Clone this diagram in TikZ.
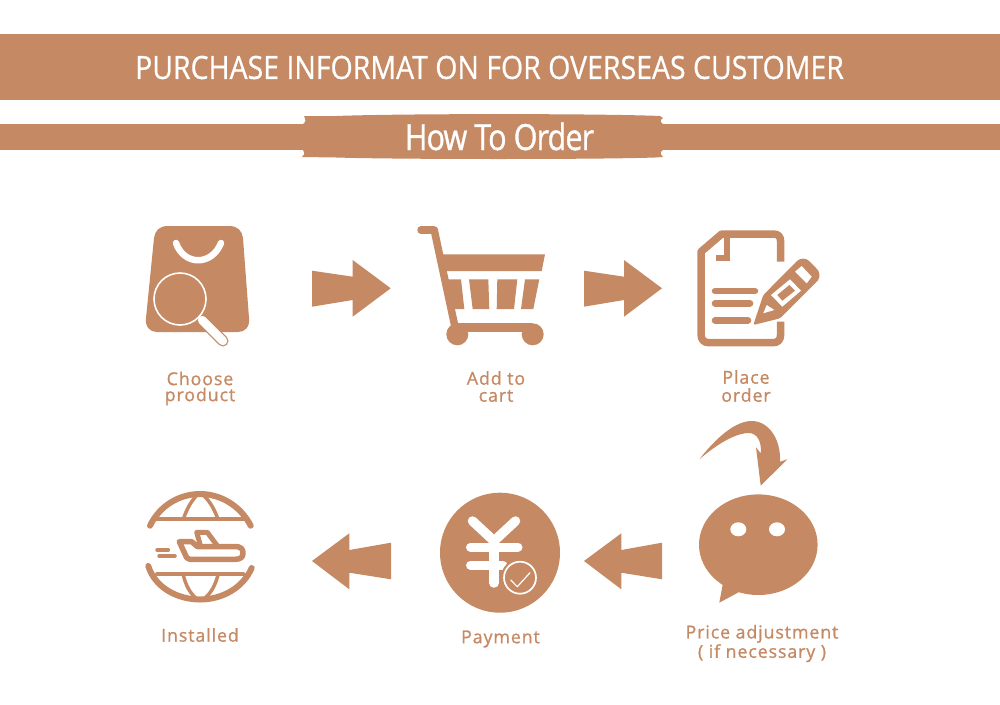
\documentclass[tikz,border=0pt]{standalone}
\usepackage{fontspec}
\setmainfont{Open Sans}
\newfontfamily\titlefont[FakeBold=0.7]{Open Sans}
\newfontfamily\howfont[FakeBold=1.1,LetterSpace=-3]{Open Sans}
\newfontfamily\lblfont[LetterSpace=5,FakeBold=1.0]{Open Sans}
\definecolor{tan}{HTML}{C58963}
\tikzset{
  x=1pt,y=-1pt,
  bigarrow/.style={fill=tan,draw=none},
  barline/.style={draw=tan,line cap=round,line join=round},
  wline/.style={draw=white,line cap=round,line join=round},
  lbl/.style={text=tan,align=center,font=\lblfont\fontsize{17.8}{17.5}\selectfont,inner sep=0pt},
  head/.style={text=white,inner sep=0pt},
}
\begin{document}
\begin{tikzpicture}
\useasboundingbox (0,0) rectangle (1000,704);
% banners
\fill[tan] (0,34) rectangle (1000,100);
\node[head] (title) at (489.5,67.5) {\scalebox{0.89}[1]{\titlefont\fontsize{32}{32}\selectfont PURCHASE INFORMAT ON FOR OVERSEAS CUSTOMER}};
\fill[tan] (0,124) rectangle (1000,150);
\fill[tan] (304,116) -- (336,116) .. controls (400,113.5) and (600,113.5) .. (660,116) -- (663,118)
  .. controls (660,120) and (660,122) .. (663,124) -- (663,150) .. controls (660,152) and (660,154) .. (663,157)
  -- (655,157.5) .. controls (600,159.5) and (400,159.5) .. (336,157.5) -- (302,157)
  .. controls (305,154) and (305,152) .. (303,150) -- (303,124) .. controls (306,122) and (306,120) .. (304,116) -- cycle;
\node[head] (howto) at (499.5,136.5) {\scalebox{0.85}[1]{\howfont\fontsize{36}{36}\selectfont How To Order}};
% bag
\fill[tan] (168,226) -- (229,226) .. controls (238,226) and (242,231) .. (243,238)
  -- (249,318) .. controls (250,327) and (245,332) .. (238,332) -- (157,332)
  .. controls (150,332) and (145,327) .. (146,318) -- (154,238) .. controls (155,231) and (159,226) .. (168,226) -- cycle;
\draw[wline,line width=6.5pt] (176,243) .. controls (184,266) and (212,266) .. (221,243);
\draw[barline,line width=11pt] (202,320) -- (223,341);
\draw[wline,line width=8.5pt] (202,320) -- (223,341);
\fill[tan] (180,299) circle (26.5);
\draw[draw=white,line width=1.6pt] (180,299) circle (26);
% arrows
\fill[bigarrow] (312,270.7) -- (352.7,276.7) -- (352.7,260) -- (390.7,288.3) -- (352.7,316.7) -- (352.7,300) -- (312,306.7) -- cycle;
\fill[bigarrow] (584,270.7) -- (624,276.7) -- (624,260) -- (662,288.3) -- (624,316.7) -- (624,300) -- (584,306.7) -- cycle;
\fill[bigarrow] (584,561) -- (621.3,533.3) -- (621.3,550) -- (662,542.7) -- (662,579.3) -- (621.3,572.7) -- (621.3,589.3) -- cycle;
\fill[bigarrow] (312,561) -- (349.3,533.3) -- (349.3,550) -- (391,542.7) -- (391,579.3) -- (349.3,572.7) -- (349.3,589.3) -- cycle;
% cart
\draw[barline,line width=7.5pt] (421,230) -- (434,230);
\draw[draw=tan,line width=7.5pt,line join=round] (434,229) -- (455,327);
\fill[tan] (441.7,254.3) -- (545,254.3) -- (541.7,271) -- (446,271) -- cycle;
\fill[tan] (447.3,279.3) -- (461,279.3) -- (464.3,309) -- (453.3,309) -- cycle;
\fill[tan] (469,279.3) -- (488.3,279.3) -- (489.3,309) -- (472.7,309) -- cycle;
\fill[tan] (497.3,279.3) -- (517.3,279.3) -- (514,309) -- (496.7,309) -- cycle;
\fill[tan] (525,279.3) -- (539.3,279.3) -- (533.3,309) -- (521,309) -- cycle;
\draw[barline,line width=8.5pt] (455,327.3) -- (531,327.3);
\fill[tan] (457.3,334.3) circle (11);
\fill[tan] (532.7,334.3) circle (11);
% document
\draw[draw=tan,line width=7.5pt,line join=round] (780.7,261.7) -- (780.7,242) .. controls (780.7,236) and (778,234) .. (773,234)
  -- (721.7,234) -- (701,251.7) -- (701,334) .. controls (701,340) and (704,342.7) .. (709,342.7)
  -- (773,342.7) .. controls (778,342.7) and (780.7,340) .. (780.7,334) -- (780.7,321.7);
\draw[draw=tan,line width=6pt] (727.3,238) -- (727.3,258.3) -- (716,258.3);
\draw[barline,line width=6.5pt] (715,291) -- (755,291);
\draw[barline,line width=6.5pt] (715,303.3) -- (750,303.3);
\draw[barline,line width=6.5pt] (715,320.3) -- (748,320.3);
% pencil
\fill[tan,rounded corners=1.5pt] (753.3,325) -- (763.3,295) -- (797,261) .. controls (801,258) and (806,258) .. (810,262)
  -- (817,269) .. controls (820,273) and (820,278) .. (816.7,281.7) -- (780,318.3) -- cycle;
\fill[white] (795,271.7) -- (801.7,266) -- (811.7,276.7) -- (806.7,283.3) -- cycle;
\fill[white] (771,295) -- (790,279.3) -- (801,290.7) -- (782.3,306.7) -- cycle;
\fill[tan] (777.3,295) -- (789.3,285) -- (795,290.7) -- (782.3,300.7) -- cycle;
\fill[white] (763.3,313.3) -- (766.7,305) -- (774.3,310) -- cycle;
% chat
\fill[tan] (758.3,544.7) ellipse [x radius=59.3,y radius=50.3];
\fill[tan] (723,583) -- (719.3,602.7) -- (740,591.5) -- cycle;
\fill[white] (738.3,529.3) ellipse [x radius=8,y radius=7];
\fill[white] (777,529.3) ellipse [x radius=8,y radius=7];
% curved arrow
\fill[tan] (699.3,459.3) .. controls (716,438) and (735,421) .. (751.7,421)
  .. controls (768,421) and (781,438) .. (780,461.7) -- (787.3,459.3) -- (760.7,485.7) -- (756,447.3) -- (760.7,453.3)
  .. controls (762,442) and (757,433) .. (749,433) .. controls (735,433) and (716,445) .. (699.3,459.3) -- cycle;
% yen
\fill[tan] (500,552.7) circle (60);
\draw[wline,line width=9.5pt] (472.5,521) -- (494,541) -- (515.5,521);
\draw[wline,line width=9pt] (470.5,547) -- (518,547);
\draw[wline,line width=9pt] (470.5,565) -- (503,565);
\draw[wline,line width=9.5pt] (494,541) -- (494,583);
\fill[tan] (520,577.7) circle (19);
\draw[draw=white,line width=1.7pt] (520,577.7) circle (16);
\draw[wline,line width=1.2pt] (510.7,580) -- (517.3,586.7) -- (530,572.7);
% globe
\draw[barline,line width=6pt] (150,525.7) .. controls (160,505) and (180,494) .. (200,494) .. controls (220,494) and (240,505) .. (250.7,525.7);
\draw[barline,line width=6pt] (148.3,566) .. controls (155,588) and (178,599.5) .. (200,599.5) .. controls (222,599.5) and (243,588) .. (251.7,568);
\draw[barline,line width=4pt] (157,519.3) -- (243.3,519.3);
\draw[barline,line width=4pt] (157,574) -- (243.3,574);
\draw[barline,line width=3.5pt] (183.3,519.3) .. controls (187,508) and (192,500) .. (198,494);
\draw[barline,line width=3.5pt] (218,519.3) .. controls (214,508) and (209,500) .. (202,494);
\draw[barline,line width=3.5pt] (183.3,575) .. controls (186,586) and (190,593) .. (196.7,599);
\draw[barline,line width=3.5pt] (218,575) .. controls (215,586) and (211,593) .. (204,599);
% plane
\draw[barline,line width=5.5pt] (179.3,541.7) -- (191.7,541.7) -- (197.3,546.5) -- (235,546.5) .. controls (241,546.5) and (243,549) .. (243,553) .. controls (243,557) and (241,559.3) .. (235,559.3)
  -- (190,559.3) .. controls (187,559.3) and (186,557) .. (185,554) -- cycle;
\draw[barline,line width=5pt] (200,544) -- (196.7,532.3) -- (207.3,532.3) -- (216.7,545);
\draw[barline,line width=3.5pt] (157,550) -- (168.3,550);
\draw[barline,line width=3.5pt] (159,556) -- (175,556);
% labels
\node[lbl] (choose) at (200,388.5) {Choose\\[-1.5pt]product};
\node[lbl] (cart) at (496,386.5) {Add to\\[-0.5pt]cart};
\node[lbl] (place) at (746,386) {Place\\[0.5pt]order};
\node[lbl] (price) at (762,643.5) {Price adjustment\\[0.5pt]( if necessary )};
\node[lbl] (pay) at (500.5,639) {Payment};
\node[lbl] (inst) at (200,635) {Installed};
\end{tikzpicture}
\end{document}
